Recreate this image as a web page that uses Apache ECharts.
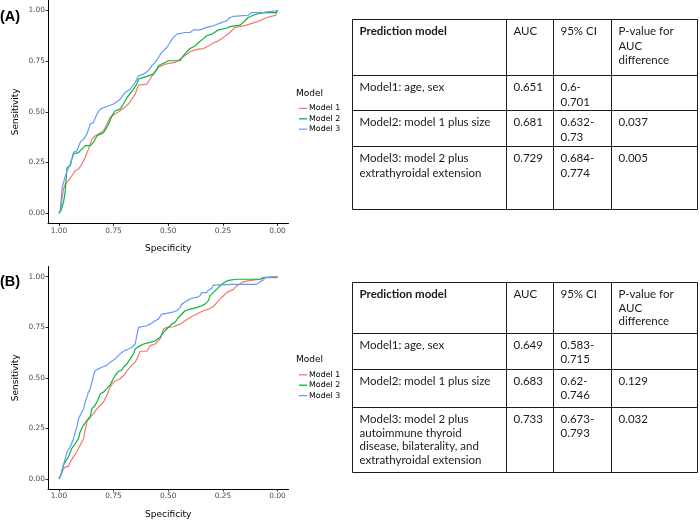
<!DOCTYPE html>
<html>
<head>
<meta charset="utf-8">
<script src="https://cdn.jsdelivr.net/npm/echarts@6/dist/echarts.min.js"></script>
<style>html,body{margin:0;padding:0;background:#fff}#c{width:700px;height:520px}</style>
</head>
<body>
<div id="c"></div>
<script>
// ---------- data: ROC points [specificity, sensitivity] ----------
const modelNames = ['Model 1', 'Model 2', 'Model 3'];
const tickValues = [0, 0.25, 0.5, 0.75, 1];
const tickLabels = ['0.00', '0.25', '0.50', '0.75', '1.00'];

const rocA_model1 = [[1,0],[.991,.021],[.986,.070],[.979,.120],[.971,.144],[.956,.161],[.941,.185],[.925,.210],[.910,.218],[.895,.243],[.880,.275],[.865,.316],[.849,.365],[.834,.382],[.819,.390],[.796,.406],[.781,.439],[.766,.472],[.743,.489],[.720,.505],[.697,.525],[.682,.538],[.667,.562],[.651,.587],[.644,.611],[.636,.631],[.598,.636],[.583,.661],[.568,.685],[.545,.718],[.530,.726],[.514,.734],[.469,.743],[.446,.759],[.416,.783],[.393,.800],[.362,.808],[.339,.811],[.317,.824],[.294,.838],[.271,.849],[.248,.866],[.218,.890],[.195,.915],[.172,.919],[.142,.926],[.096,.942],[.065,.956],[.050,.964],[.020,.972],[.008,.975],[.005,.997],[0,1]];
const rocA_model2 = [[1,0],[.991,.013],[.979,.054],[.971,.111],[.963,.226],[.948,.234],[.941,.267],[.933,.292],[.910,.300],[.895,.316],[.880,.333],[.857,.333],[.842,.349],[.826,.382],[.811,.390],[.796,.397],[.781,.423],[.766,.456],[.758,.480],[.743,.505],[.720,.513],[.705,.538],[.697,.554],[.682,.579],[.659,.611],[.644,.636],[.636,.661],[.613,.669],[.598,.674],[.568,.685],[.552,.710],[.545,.726],[.522,.739],[.499,.751],[.446,.751],[.431,.775],[.416,.795],[.400,.811],[.377,.824],[.362,.841],[.339,.860],[.324,.874],[.301,.882],[.286,.893],[.271,.903],[.233,.911],[.218,.919],[.172,.926],[.149,.948],[.134,.964],[.111,.975],[.081,.985],[.050,.988],[.005,.988],[0,1]];
const rocA_model3 = [[1,0],[.994,.013],[.986,.120],[.979,.152],[.963,.210],[.948,.243],[.933,.300],[.918,.308],[.903,.349],[.887,.365],[.872,.390],[.857,.439],[.842,.447],[.826,.489],[.811,.513],[.781,.526],[.750,.538],[.720,.562],[.697,.595],[.674,.611],[.651,.644],[.636,.677],[.613,.685],[.591,.702],[.575,.726],[.560,.743],[.545,.767],[.530,.792],[.507,.816],[.492,.841],[.476,.866],[.461,.882],[.423,.890],[.400,.890],[.385,.903],[.355,.903],[.324,.915],[.294,.923],[.263,.936],[.233,.948],[.218,.964],[.202,.969],[.172,.972],[.134,.975],[.119,.988],[.065,.988],[.050,.992],[.005,.997],[0,1]];

const rocB_model1 = [[1,0],[.991,.007],[.982,.044],[.971,.061],[.956,.061],[.948,.085],[.933,.110],[.918,.134],[.903,.167],[.887,.200],[.880,.241],[.872,.282],[.857,.306],[.842,.323],[.826,.347],[.811,.364],[.796,.380],[.781,.413],[.766,.454],[.750,.479],[.720,.495],[.705,.511],[.693,.528],[.682,.544],[.667,.561],[.651,.577],[.636,.610],[.629,.631],[.598,.631],[.583,.659],[.560,.667],[.537,.692],[.522,.741],[.507,.749],[.476,.752],[.446,.765],[.423,.782],[.400,.798],[.370,.815],[.339,.831],[.317,.839],[.294,.851],[.271,.880],[.256,.897],[.233,.921],[.202,.937],[.187,.954],[.164,.970],[.142,.978],[.111,.983],[.081,.987],[.050,.995],[0,.995]];
const rocB_model2 = [[1,0],[.994,.011],[.986,.036],[.979,.069],[.971,.077],[.956,.110],[.941,.151],[.925,.175],[.910,.200],[.903,.233],[.887,.266],[.872,.290],[.857,.306],[.849,.347],[.834,.364],[.819,.397],[.811,.421],[.796,.429],[.781,.446],[.766,.465],[.758,.470],[.743,.511],[.728,.531],[.712,.539],[.705,.552],[.689,.569],[.674,.593],[.659,.618],[.651,.642],[.636,.654],[.613,.667],[.583,.675],[.560,.683],[.537,.700],[.522,.724],[.507,.741],[.484,.765],[.469,.774],[.454,.798],[.438,.815],[.423,.831],[.400,.839],[.370,.847],[.347,.856],[.332,.864],[.317,.880],[.309,.905],[.294,.921],[.279,.937],[.271,.946],[.263,.954],[.248,.967],[.233,.978],[.218,.983],[.187,.987],[.081,.987],[.065,.995],[.058,1],[0,1]];
const rocB_model3 = [[1,0],[.994,.011],[.979,.069],[.963,.134],[.948,.159],[.933,.200],[.925,.233],[.918,.257],[.910,.298],[.895,.331],[.887,.347],[.880,.380],[.865,.429],[.857,.446],[.849,.479],[.842,.511],[.834,.536],[.819,.544],[.804,.552],[.781,.561],[.766,.577],[.743,.593],[.720,.618],[.705,.631],[.682,.642],[.667,.651],[.651,.667],[.644,.708],[.636,.749],[.629,.752],[.598,.757],[.583,.765],[.560,.782],[.545,.790],[.530,.815],[.507,.818],[.484,.823],[.461,.831],[.446,.847],[.438,.864],[.416,.880],[.393,.893],[.370,.897],[.355,.905],[.347,.921],[.324,.921],[.317,.933],[.301,.942],[.294,.957],[.271,.959],[.202,.962],[.096,.962],[.081,.974],[.065,.983],[.058,.995],[.050,1],[0,1]];

// ---------- table texts ----------
const tableHeader = ['Prediction model', 'AUC', '95% CI', 'P-value for\nAUC\ndifference'];
const tableARows = [
  ['Model1: age, sex', '0.651', '0.6-\n0.701', ''],
  ['Model2: model 1 plus size', '0.681', '0.632-\n0.73', '0.037'],
  ['Model3: model 2 plus\nextrathyroidal extension', '0.729', '0.684-\n0.774', '0.005']
];
const tableBRows = [
  ['Model1: age, sex', '0.649', '0.583-\n0.715', ''],
  ['Model2: model 1 plus size', '0.683', '0.62-\n0.746', '0.129'],
  ['Model3: model 2 plus\nautoimmune thyroid\ndisease, bilaterality, and\nextrathyroidal extension', '0.733', '0.673-\n0.793', '0.032']
];

// ---------- layout / style ----------
const colors = ['#F8766D', '#00BA38', '#619CFF'];
const plotFont = 'DejaVu Sans';
const tableFont = 'Lato';
const colX = [352.5, 506.5, 553.5, 611.5, 697.5];
const tableALayout = { rows: [19.5, 75.5, 110.5, 146.5, 209.5], lh: 14.6 };
const tableBLayout = { rows: [282.5, 333.5, 369.5, 407.5, 472.5], lh: 13.9 };
const grids = [
  { left: 48, top: 0, width: 240.5, height: 223.5 },
  { left: 48, top: 266.5, width: 240.5, height: 223.5 }
];

function fmtTick(v) {
  const i = tickValues.findIndex(t => Math.abs(t - v) < 1e-9);
  return i >= 0 ? tickLabels[i] : '';
}

function makeX(i) {
  return {
    type: 'value', gridIndex: i, min: -0.05, max: 1.05, inverse: true,
    name: 'Specificity', nameLocation: 'middle', nameGap: 21,
    nameTextStyle: { fontFamily: plotFont, fontSize: 9, color: '#000' },
    axisLine: { show: true, onZero: false, lineStyle: { color: '#000', width: 1 } },
    axisTick: { show: true, length: 2.5, customValues: tickValues, lineStyle: { color: '#333', width: 1 } },
    axisLabel: { customValues: tickValues, formatter: fmtTick, fontFamily: plotFont, fontSize: 7.4, color: '#4d4d4d', margin: 4 },
    splitLine: { show: false }
  };
}
function makeY(i) {
  return {
    type: 'value', gridIndex: i, min: -0.05, max: 1.05,
    name: 'Sensitivity', nameLocation: 'middle', nameGap: 28,
    nameTextStyle: { fontFamily: plotFont, fontSize: 9, color: '#000' },
    axisLine: { show: true, onZero: false, lineStyle: { color: '#000', width: 1 } },
    axisTick: { show: true, length: 2.5, customValues: tickValues, lineStyle: { color: '#333', width: 1 } },
    axisLabel: { customValues: tickValues, formatter: fmtTick, fontFamily: plotFont, fontSize: 7.4, color: '#4d4d4d', margin: 3 },
    splitLine: { show: false }
  };
}
function makeSeries(name, data, gi, ci) {
  return {
    type: 'line', name: name, data: data, xAxisIndex: gi, yAxisIndex: gi,
    showSymbol: false, symbol: 'none', animation: false,
    lineStyle: { color: colors[ci], width: 1.2 }, itemStyle: { color: colors[ci] }
  };
}
function makeLegend(top) {
  return {
    orient: 'vertical', left: 299, top: top, icon: 'rect', itemWidth: 8, itemHeight: 1.3,
    itemGap: 0, padding: 0, data: modelNames, selectedMode: false,
    textStyle: { fontFamily: plotFont, fontSize: 7.9, color: '#000', lineHeight: 10.4, padding: [0, 0, 0, -3] }
  };
}
function buildTable(layout, rows) {
  const els = [];
  const r = layout.rows;
  const stroke = { stroke: '#1a1a1a', lineWidth: 1 };
  els.push({ type: 'rect', shape: { x: colX[0], y: r[0], width: colX[4] - colX[0], height: r[4] - r[0] }, style: Object.assign({ fill: null }, stroke) });
  for (let k = 1; k < 4; k++) {
    els.push({ type: 'line', shape: { x1: colX[0], y1: r[k], x2: colX[4], y2: r[k] }, style: stroke });
    els.push({ type: 'line', shape: { x1: colX[k], y1: r[0], x2: colX[k], y2: r[4] }, style: stroke });
  }
  const all = [tableHeader].concat(rows);
  all.forEach((row, ri) => {
    row.forEach((txt, ci) => {
      if (!txt) return;
      els.push({
        type: 'text', x: colX[ci] + 7, y: r[ri] + 4.5,
        style: { text: txt, fontFamily: tableFont, fontSize: 11.5, lineHeight: layout.lh,
          fontWeight: (ri === 0 && ci === 0) ? 'bold' : 'normal', fill: '#1a1a1a', verticalAlign: 'top', align: 'left' }
      });
    });
  });
  return els;
}

const series = [];
[[rocA_model1, rocA_model2, rocA_model3], [rocB_model1, rocB_model2, rocB_model3]].forEach((set, gi) => {
  set.forEach((d, ci) => series.push(makeSeries(modelNames[ci], d, gi, ci)));
});

const option = {
  animation: false,
  backgroundColor: '#fff',
  grid: grids,
  xAxis: [makeX(0), makeX(1)],
  yAxis: [makeY(0), makeY(1)],
  legend: [makeLegend(103.2), makeLegend(369.6)],
  title: [
    { text: '(A)', left: 0, top: 9, padding: 0, textStyle: { fontFamily: 'Liberation Sans', fontSize: 14.5, fontWeight: 'bold', color: '#000' } },
    { text: '(B)', left: 0, top: 274, padding: 0, textStyle: { fontFamily: 'Liberation Sans', fontSize: 14.5, fontWeight: 'bold', color: '#000' } },
    { text: 'Model', left: 296, top: 89.5, padding: 0, textStyle: { fontFamily: plotFont, fontSize: 9, fontWeight: 'normal', color: '#000' } },
    { text: 'Model', left: 296, top: 355, padding: 0, textStyle: { fontFamily: plotFont, fontSize: 9, fontWeight: 'normal', color: '#000' } }
  ],
  graphic: buildTable(tableALayout, tableARows).concat(buildTable(tableBLayout, tableBRows)),
  series: series
};

const chart = echarts.init(document.getElementById('c'), null, { renderer: 'canvas' });
chart.setOption(option);
</script>
</body>
</html>
